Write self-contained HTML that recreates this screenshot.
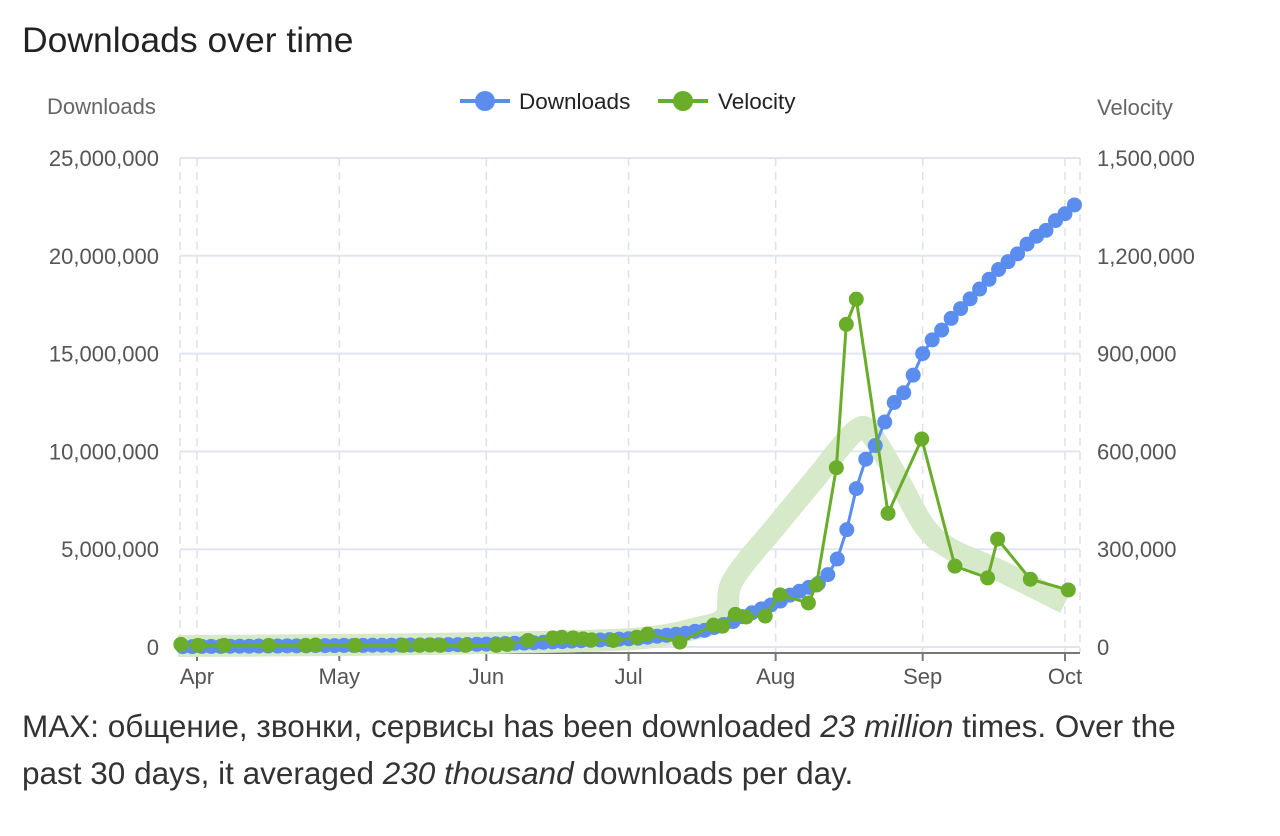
<!DOCTYPE html>
<html><head><meta charset="utf-8">
<style>
body{margin:0;width:1280px;height:836px;background:#fff;font-family:"Liberation Sans","Noto Sans CJK SC",sans-serif;overflow:hidden}
#title{position:absolute;left:22px;top:20px;font-size:35.5px;color:#222}
#desc{position:absolute;left:22px;top:703px;font-size:31.5px;line-height:47px;color:#333;white-space:nowrap}
svg{position:absolute;left:0;top:0}
</style></head><body>
<div id="title">Downloads over time</div>
<svg id="chart" width="1280" height="836"></svg>
<div id="desc">MAX: общение, звонки, сервисы has been downloaded <i>23 million</i> times. Over the<br>past 30 days, it averaged <i>230 thousand</i> downloads per day.</div>
<script>
// Downloads: every 2 days starting Mar 29 (day -3 relative to Apr 1), values in millions
const dlStartDay = -3;
const dlStepDays = 2;
const dlValues = [0.02,0.02,0.03,0.03,0.03,0.04,0.04,0.04,0.05,0.05,0.05,0.06,0.06,0.06,0.07,0.07,0.07,0.08,0.08,0.08,0.09,0.09,0.09,0.1,0.1,0.1,0.11,0.11,0.12,0.12,0.13,0.14,0.15,0.16,0.18,0.19,0.2,0.22,0.24,0.26,0.28,0.3,0.32,0.34,0.36,0.38,0.4,0.42,0.45,0.5,0.55,0.6,0.65,0.7,0.8,0.85,1.0,1.15,1.3,1.55,1.75,1.95,2.15,2.35,2.65,2.85,3.05,3.25,3.7,4.5,6.0,8.1,9.6,10.3,11.5,12.5,13.0,13.9,15.0,15.7,16.2,16.8,17.3,17.8,18.3,18.8,19.3,19.7,20.1,20.6,21.0,21.3,21.8,22.15,22.6];
// Velocity: day offsets from Apr 1, values in thousands
const velDays = [-3.4,0.2,5.7,15.1,22.9,25,33.4,43.5,46.9,49.2,51.3,56.6,63.1,65.4,69.8,75,76.9,79.3,81.4,83.2,87.8,92.7,95,101.8,108.9,110.8,113.5,115.8,119.8,122.9,128.9,130.6,134.8,136.9,139,145.7,152.8,159.8,166.7,168.8,175.7,183.7];
const velValues = [8,5,5,5,5,6,5,5,5,6,5,5,5,8,20,28,30,28,25,22,20,30,40,15,67,64,100,92,95,160,135,190,550,990,1067,410,638,248,212,331,208,175];
// Velocity trend band
const trendDays = [-4,30,60,92,106,111.5,113,122.6,130,139,142.5,148,153.5,159,169,183];
const trendValues = [3,6,12,25,60,95,205,380,510,665,645,510,368,300,236,135];
const leftTicks = [0,5,10,15,20,25];
const leftTickLabels = ["0","5,000,000","10,000,000","15,000,000","20,000,000","25,000,000"];
const rightTicks = [0,300,600,900,1200,1500];
const rightTickLabels = ["0","300,000","600,000","900,000","1,200,000","1,500,000"];
const monthDays = [0,30,61,91,122,153,183];
const monthLabels = ["Apr","May","Jun","Jul","Aug","Sep","Oct"];

const X0=180,X1=1080,Y0=647,Y1=158;
const xs=d=>197+d*4.743;
const yl=v=>Y0-(v/25)*(Y0-Y1);
const yr=v=>Y0-(v/1500)*(Y0-Y1);
const svg=document.getElementById('chart');
const NS='http://www.w3.org/2000/svg';
function mk(tag,attrs,parent){const e=document.createElementNS(NS,tag);for(const k in attrs)e.setAttribute(k,attrs[k]);(parent||svg).appendChild(e);return e;}
function txt(s,attrs){const e=mk('text',attrs);e.textContent=s;return e;}

leftTicks.forEach((t,i)=>{
  const g=mk('line',{x1:X0,x2:X1,y1:yl(t),y2:yl(t),stroke:'#e1e5f0','stroke-width':2});
  
  
  const l=txt(leftTickLabels[i],{x:159,y:yl(t)+8,'text-anchor':'end','font-size':22,fill:'#555'});
  
  
});
rightTicks.forEach((t,i)=>{
  const l=txt(rightTickLabels[i],{x:1097,y:yr(t)+8,'font-size':22,fill:'#555'});
  
  
});
[X0,X1].concat(monthDays.map(xs)).forEach(x=>{
  const v=mk('line',{x1:x,x2:x,y1:Y1,y2:652,stroke:'#dde1ec','stroke-width':1.5,'stroke-dasharray':'8,6'});
  
  
});
const ax=mk('line',{x1:X0,x2:X1,y1:653,y2:653,stroke:'#777','stroke-width':2});


monthDays.forEach((d,i)=>{
  mk('line',{x1:xs(d),x2:xs(d),y1:653,y2:661,stroke:'#777','stroke-width':2});
  const l=txt(monthLabels[i],{x:xs(d),y:684,'text-anchor':'middle','font-size':22,fill:'#555'});
  
  
});
const at1=txt('Downloads',{x:47,y:114,'font-size':22,fill:'#666'});


const at2=txt('Velocity',{x:1097,y:115,'font-size':22,fill:'#666'});



function smooth(pts){let d='M'+pts[0][0]+','+pts[0][1];
  for(let i=0;i<pts.length-1;i++){const p0=pts[i-1]||pts[i],p1=pts[i],p2=pts[i+1],p3=pts[i+2]||p2;
    d+=' C'+(p1[0]+(p2[0]-p0[0])/6)+','+(p1[1]+(p2[1]-p0[1])/6)+' '+(p2[0]-(p3[0]-p1[0])/6)+','+(p2[1]-(p3[1]-p1[1])/6)+' '+p2[0]+','+p2[1];}
  return d;}
const tp=trendDays.map((d,i)=>[xs(d),yr(trendValues[i])]);
const band=mk('path',{d:smooth(tp),fill:'none',stroke:'#d6e9c9','stroke-width':22,'stroke-linecap':'butt','stroke-linejoin':'round'});



const dp=dlValues.map((v,i)=>[xs(dlStartDay+i*dlStepDays),yl(v)]);
const dl=mk('polyline',{points:dp.map(p=>p.join(',')).join(' '),fill:'none',stroke:'#5b8def','stroke-width':3});


dp.forEach(p=>{const c=mk('circle',{cx:p[0],cy:p[1],r:7.5,fill:'#5b8def'});
  
  });

const vp=velDays.map((d,i)=>[xs(d),yr(velValues[i])]);
const vl=mk('polyline',{points:vp.map(p=>p.join(',')).join(' '),fill:'none',stroke:'#6aad2a','stroke-width':3});


vp.forEach(p=>{const c=mk('circle',{cx:p[0],cy:p[1],r:7.5,fill:'#6aad2a'});
  
  });

const lg1=mk('g',{});


mk('line',{x1:460,x2:510,y1:101,y2:101,stroke:'#5b8def','stroke-width':4},lg1);
mk('circle',{cx:485,cy:101,r:10,fill:'#5b8def'},lg1);
const t1=mk('text',{x:519,y:109,'font-size':22.5,fill:'#222'},lg1);t1.textContent='Downloads';
const lg2=mk('g',{});


mk('line',{x1:658,x2:708,y1:101,y2:101,stroke:'#6aad2a','stroke-width':4},lg2);
mk('circle',{cx:683,cy:101,r:10,fill:'#6aad2a'},lg2);
const t2=mk('text',{x:718,y:109,'font-size':22.5,fill:'#222'},lg2);t2.textContent='Velocity';
</script>
</body></html>
